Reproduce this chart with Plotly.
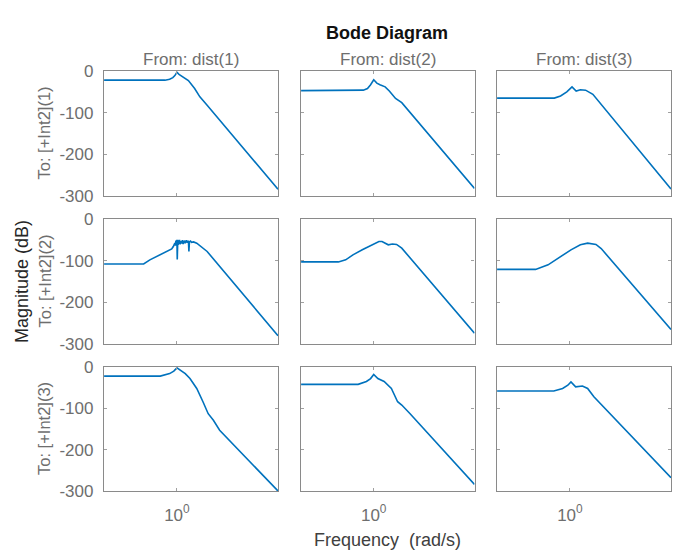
import plotly.graph_objects as go
from plotly.subplots import make_subplots

# frequency (rad/s) and magnitude (dB), one pair per input/output channel
# row = To: [+Int2](i), col = From: dist(j)
w_11 = [0.2, 0.5, 0.767, 0.851, 0.913, 0.955, 1.0, 1.047, 1.148, 1.288, 1.479, 1.66, 1.95, 9.33]
mag_11 = [-22, -22, -22, -20, -16, -11, -3, -8, -15, -23, -42, -62, -82, -284]

w_12 = [0.2, 0.5, 0.676, 0.794, 0.871, 0.933, 1.0, 1.072, 1.148, 1.288, 1.413, 1.514, 1.622, 1.862, 9.33]
mag_12 = [-47, -47, -47, -46, -42, -33, -21, -29, -33, -38, -48, -56, -66, -76, -282]

w_13 = [0.2, 0.5, 0.708, 0.813, 0.933, 1.047, 1.148, 1.259, 1.413, 1.66, 1.995, 9.33]
mag_13 = [-65, -65, -65, -60, -50, -38, -48, -45, -46, -56, -80, -283]

w_21 = [0.2, 0.479, 0.55, 0.741, 0.891, 0.923, 0.94, 0.955, 0.966, 0.977, 0.989, 1.0, 1.007,
        1.013, 1.019, 1.027, 1.035, 1.047, 1.06, 1.072, 1.09, 1.109, 1.128, 1.148, 1.175, 1.202,
        1.23, 1.259, 1.288, 1.303, 1.318, 1.35, 1.38, 1.445, 1.549, 1.66, 1.95, 9.33]
mag_21 = [-108, -108, -98, -82, -72, -66, -62, -58, -64, -52, -64, -50, -97,
          -56, -50, -62, -52, -60, -50, -61, -53, -59, -51, -60, -52, -58,
          -51, -57, -52, -78, -55, -53, -56, -55, -58, -64, -78, -280]

w_22 = [0.2, 0.457, 0.537, 0.631, 0.776, 0.891, 1.038, 1.122, 1.202, 1.288, 1.38, 1.514, 1.66, 1.862, 9.33]
mag_22 = [-103, -103, -98, -86, -74, -66, -57, -54, -54, -58, -62, -60, -61, -70, -274]

w_23 = [0.2, 0.468, 0.617, 0.794, 1.023, 1.259, 1.479, 1.778, 1.995, 9.33]
mag_23 = [-121, -121, -110, -92, -74, -62, -58, -61, -71, -265]

w_31 = [0.2, 0.5, 0.692, 0.851, 0.933, 1.0, 1.202, 1.334, 1.549, 1.778, 1.995, 2.239, 2.57, 9.33]
mag_31 = [-22, -22, -22, -16, -10, -2, -16, -28, -52, -84, -113, -129, -153, -300]

w_32 = [0.2, 0.5, 0.708, 0.851, 0.933, 1.0, 1.096, 1.259, 1.479, 1.698, 1.862, 2.239, 9.33]
mag_32 = [-42, -42, -42, -35, -28, -18, -28, -35, -52, -84, -92, -113, -284]

w_33 = [0.2, 0.5, 0.7, 0.851, 0.955, 1.023, 1.135, 1.318, 1.479, 1.698, 9.33]
mag_33 = [-58, -58, -58, -52, -44, -36, -48, -46, -52, -72, -268]

inputs = ["dist(1)", "dist(2)", "dist(3)"]
outputs = ["[+Int2](1)", "[+Int2](2)", "[+Int2](3)"]
mag_ticks = [0, -100, -200, -300]
mag_tick_text = ["0", "-100", "-200", "-300"]

curves = [[(w_11, mag_11), (w_12, mag_12), (w_13, mag_13)],
          [(w_21, mag_21), (w_22, mag_22), (w_23, mag_23)],
          [(w_31, mag_31), (w_32, mag_32), (w_33, mag_33)]]

# page body has an 8px margin, so the figure is drawn 8px in from the window corner
OFF = 8
W, H = 680 - OFF, 560 - OFF
col_px = [(104, 278), (301, 474.5), (497, 671)]
row_px = [(71, 196), (219, 344), (367, 491)]


def px(x):
    return (x - OFF) / W


def py(y):
    return 1 - (y - OFF) / H


fig = make_subplots(rows=3, cols=3)
font = "Liberation Sans, Arial, sans-serif"
gray = "#6e6e6e"

for r in range(3):
    for c in range(3):
        w, m = curves[r][c]
        fig.add_trace(go.Scatter(x=w, y=m, mode="lines",
                                 line=dict(color="#0072BD", width=1.6),
                                 showlegend=False), row=r + 1, col=c + 1)
        fig.update_xaxes(type="log", range=[-0.7, 0.97], automargin=False,
                         domain=[px(col_px[c][0]), px(col_px[c][1])],
                         tickvals=[1], ticktext=["10<sup>0</sup>"],
                         showticklabels=(r == 2), ticklabelstandoff=8,
                         ticks="inside", ticklen=3, tickcolor="#a0a0a0",
                         showline=True, linecolor="#8a8a8a", linewidth=1.3,
                         mirror="ticks", showgrid=False, zeroline=False,
                         tickfont=dict(size=17, color=gray, family=font),
                         row=r + 1, col=c + 1)
        fig.update_yaxes(range=[-300, 0], automargin=False,
                         domain=[py(row_px[r][1]), py(row_px[r][0])],
                         tickvals=mag_ticks, ticktext=mag_tick_text,
                         showticklabels=(c == 0), ticklabelstandoff=6,
                         ticks="inside", ticklen=3, tickcolor="#a0a0a0",
                         showline=True, linecolor="#8a8a8a", linewidth=1.3,
                         mirror="ticks", showgrid=False, zeroline=False,
                         tickfont=dict(size=17, color=gray, family=font),
                         row=r + 1, col=c + 1)

ann = []
ann.append(dict(text="<b>Bode Diagram</b>", x=px(387), y=py(33),
                font=dict(size=18, color="#111111", family=font)))
for c in range(3):
    ann.append(dict(text="From: " + inputs[c], x=px((col_px[c][0] + col_px[c][1]) / 2), y=py(60),
                    font=dict(size=17, color=gray, family=font)))
for r in range(3):
    ann.append(dict(text="To: " + outputs[r], x=px(44), y=py((row_px[r][0] + row_px[r][1]) / 2),
                    textangle=-90, font=dict(size=16.5, color=gray, family=font)))
ann.append(dict(text="Magnitude (dB)", x=px(22), y=py(282), textangle=-90,
                font=dict(size=18, color="#262626", family=font)))
ann.append(dict(text="Frequency  (rad/s)", x=px(387), y=py(540),
                font=dict(size=18, color="#404040", family=font)))
for a in ann:
    a.update(xref="paper", yref="paper", showarrow=False, xanchor="center", yanchor="middle")

fig.update_layout(width=W, height=H, margin=dict(l=0, r=0, t=0, b=0),
                  paper_bgcolor="white", plot_bgcolor="white",
                  annotations=ann, font=dict(family=font))

fig.write_html("out.html")
